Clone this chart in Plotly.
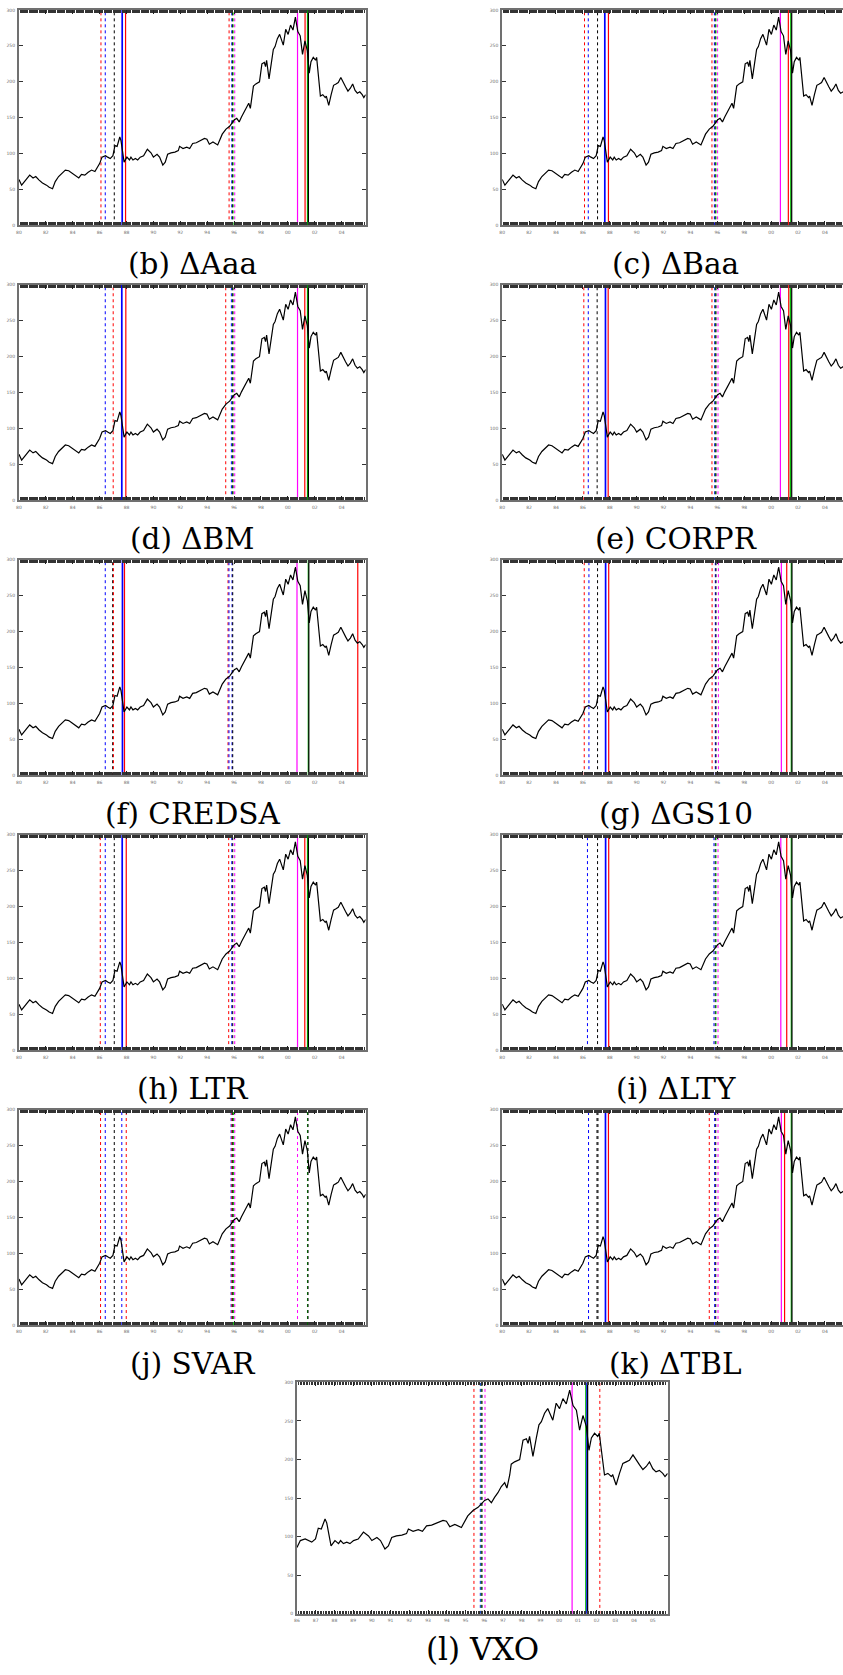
import plotly.graph_objects as go

# ---- index level (decimal year, level) ----
YEARS = [
    1980.00, 1980.20, 1980.50, 1980.80, 1981.05, 1981.25, 1981.50, 1981.75, 1982.05, 1982.25,
    1982.50, 1982.70, 1982.95, 1983.20, 1983.45, 1983.70, 1983.95, 1984.20, 1984.45, 1984.65,
    1984.90, 1985.15, 1985.40, 1985.65, 1985.90, 1986.00, 1986.18, 1986.44, 1986.60, 1986.79,
    1986.99, 1987.14, 1987.30, 1987.50, 1987.59, 1987.82, 1988.03, 1988.22, 1988.33, 1988.48,
    1988.66, 1988.83, 1989.02, 1989.27, 1989.55, 1989.82, 1990.00, 1990.27, 1990.46, 1990.70,
    1990.88, 1991.06, 1991.31, 1991.60, 1991.85, 1991.95, 1992.20, 1992.48, 1992.70, 1992.92,
    1993.19, 1993.54, 1993.80, 1993.98, 1994.16, 1994.43, 1994.58, 1994.78, 1995.12, 1995.40,
    1995.67, 1995.85, 1996.02, 1996.20, 1996.38, 1996.55, 1996.73, 1996.91, 1997.09, 1997.21,
    1997.36, 1997.44, 1997.62, 1997.89, 1998.07, 1998.25, 1998.34, 1998.42, 1998.60, 1998.78,
    1998.92, 1999.05, 1999.22, 1999.39, 1999.66, 1999.84, 2000.02, 2000.20, 2000.38, 2000.56,
    2000.74, 2000.92, 2001.09, 2001.27, 2001.45, 2001.59, 2001.72, 2001.89, 2002.06, 2002.14,
    2002.33, 2002.42, 2002.60, 2002.78, 2002.86, 2003.04, 2003.22, 2003.40, 2003.58, 2003.75,
    2003.94, 2004.11, 2004.29, 2004.47, 2004.65, 2004.82, 2005.00, 2005.17, 2005.35, 2005.53,
    2005.65, 2005.79,
]
LEVEL = [
    64, 56, 63, 70, 66, 68, 63, 59, 56, 53,
    51, 61, 68, 72, 77, 76, 73, 70, 66, 71,
    70, 74, 77, 75, 82, 86, 95, 97, 95, 93,
    97, 111, 110, 123, 118, 88, 95, 91, 95, 91,
    93, 91, 95, 97, 106, 101, 95, 99, 95, 84,
    88, 99, 101, 102, 104, 110, 107, 109, 107, 114,
    115, 118, 121, 120, 113, 116, 114, 112, 127, 134,
    138, 142, 147, 149, 144, 151, 157, 165, 170, 163,
    180, 194, 197, 200, 225, 227, 221, 230, 204, 228,
    245, 249, 260, 266, 251, 273, 266, 279, 272, 290,
    270, 264, 238, 257, 243, 212, 228, 234, 230, 234,
    197, 180, 182, 178, 180, 167, 182, 195, 197, 199,
    206, 199, 193, 187, 191, 197, 188, 184, 186, 182,
    178, 182,
]

# ---- break dates: (test, kind, date); kind "est" = point estimate, "ci" = interval bound ----
BREAKS_AAA = [
    ("t1", "ci", 1986.10), ("t2", "ci", 1986.42), ("t3", "ci", 1987.09), ("t2", "est", 1987.68), ("t1", "est", 1987.93),
    ("t1", "ci", 1995.63), ("t2", "ci", 1995.83), ("t3", "ci", 1995.88), ("t4", "ci", 1995.93), ("t5", "ci", 1996.05),
    ("t5", "est", 2000.72), ("t1", "est", 2001.28), ("t4", "est", 2001.46), ("t3", "est", 2001.53),
]
BREAKS_BAA = [
    ("t1", "ci", 1986.12), ("t2", "ci", 1986.40), ("t3", "ci", 1987.09), ("t2", "est", 1987.63), ("t1", "est", 1987.90),
    ("t1", "ci", 1995.60), ("t2", "ci", 1995.78), ("t3", "ci", 1995.85), ("t4", "ci", 1995.90), ("t5", "ci", 1996.02),
    ("t5", "est", 2000.69), ("t1", "est", 2001.28), ("t4", "est", 2001.46), ("t3", "est", 2001.53),
]
BREAKS_BM = [
    ("t2", "ci", 1986.42), ("t1", "ci", 1987.01), ("t2", "est", 1987.65), ("t1", "est", 1987.95),
    ("t1", "ci", 1995.38), ("t2", "ci", 1995.80), ("t4", "ci", 1995.88), ("t3", "ci", 1995.92), ("t5", "ci", 1996.05),
    ("t5", "est", 2000.72), ("t1", "est", 2001.26), ("t4", "est", 2001.46), ("t3", "est", 2001.53),
]
BREAKS_CORPR = [
    ("t1", "ci", 1986.07), ("t2", "ci", 1986.40), ("t3", "ci", 1987.06), ("t2", "est", 1987.68), ("t1", "est", 1987.88),
    ("t1", "ci", 1995.60), ("t2", "ci", 1995.80), ("t4", "ci", 1995.85), ("t3", "ci", 1995.90), ("t5", "ci", 1996.05),
    ("t5", "est", 2000.69), ("t1", "est", 2001.31), ("t4", "est", 2001.43), ("t3", "est", 2001.53),
]
BREAKS_CREDSA = [
    ("t2", "ci", 1986.42), ("t3", "ci", 1986.97), ("t1", "ci", 1987.03), ("t2", "est", 1987.70), ("t1", "est", 1987.85),
    ("t1", "ci", 1995.55), ("t2", "ci", 1995.62), ("t2", "ci", 1995.85), ("t3", "ci", 1995.90),
    ("t5", "est", 2000.68), ("t4", "est", 2001.52), ("t3", "est", 2001.56), ("t1", "est", 2005.20),
]
BREAKS_GS10 = [
    ("t1", "ci", 1986.10), ("t2", "ci", 1986.45), ("t3", "ci", 1987.09), ("t2", "est", 1987.69), ("t1", "est", 1987.92),
    ("t1", "ci", 1995.61), ("t2", "ci", 1995.85), ("t3", "ci", 1995.90), ("t5", "ci", 1996.08),
    ("t5", "est", 2000.76), ("t1", "est", 2001.16), ("t4", "est", 2001.50), ("t3", "est", 2001.55),
]
BREAKS_LTR = [
    ("t1", "ci", 1986.05), ("t2", "ci", 1986.42), ("t3", "ci", 1987.09), ("t2", "est", 1987.68), ("t1", "est", 1987.98),
    ("t1", "ci", 1995.60), ("t2", "ci", 1995.83), ("t3", "ci", 1995.90), ("t5", "ci", 1996.05),
    ("t5", "est", 2000.72), ("t1", "est", 2001.26), ("t4", "est", 2001.46), ("t3", "est", 2001.53),
]
BREAKS_LTY = [
    ("t2", "ci", 1986.34), ("t3", "ci", 1987.09), ("t2", "est", 1987.69), ("t1", "est", 1987.92),
    ("t2", "ci", 1995.75), ("t3", "ci", 1995.85), ("t4", "ci", 1995.90), ("t5", "ci", 1996.05),
    ("t5", "est", 2000.72), ("t1", "est", 2001.16), ("t4", "est", 2001.50), ("t3", "est", 2001.55),
]
BREAKS_SVAR = [
    ("t1", "ci", 1986.07), ("t2", "ci", 1986.42), ("t3", "ci", 1987.09), ("t2", "ci", 1987.65), ("t1", "ci", 1987.98),
    ("t2", "ci", 1995.78), ("t1", "ci", 1995.84), ("t3", "ci", 1995.90), ("t4", "ci", 1995.95), ("t5", "ci", 1996.05),
    ("t5", "ci", 2000.72), ("t4", "ci", 2001.46), ("t3", "ci", 2001.50),
]
BREAKS_TBL = [
    ("t2", "ci", 1986.42), ("t3", "ci", 1987.05), ("t3", "ci", 1987.12), ("t2", "est", 1987.68), ("t1", "est", 1987.90),
    ("t1", "ci", 1995.40), ("t2", "ci", 1995.80), ("t3", "ci", 1995.88), ("t5", "ci", 1996.05),
    ("t5", "est", 2000.76), ("t1", "est", 2001.00), ("t4", "est", 2001.50), ("t3", "est", 2001.55),
]
BREAKS_VXO = [
    ("t1", "ci", 1995.45), ("t2", "ci", 1995.79), ("t4", "ci", 1995.84), ("t3", "ci", 1995.88), ("t5", "ci", 1996.04),
    ("t5", "est", 2000.69), ("t4", "est", 2001.42), ("t2", "est", 2001.49), ("t3", "est", 2001.52), ("t1", "ci", 2002.17),
]

PANEL_TITLES = ["(b) ΔAaa", "(c) ΔBaa", "(d) ΔBM", "(e) CORPR", "(f) CREDSA", "(g) ΔGS10",
                "(h) LTR", "(i) ΔLTY", "(j) SVAR", "(k) ΔTBL", "(l) VXO"]
PANEL_BREAKS = [BREAKS_AAA, BREAKS_BAA, BREAKS_BM, BREAKS_CORPR, BREAKS_CREDSA, BREAKS_GS10,
                BREAKS_LTR, BREAKS_LTY, BREAKS_SVAR, BREAKS_TBL, BREAKS_VXO]
PANEL_START = [1980] * 10 + [1986]

Y_TICKS = [0, 50, 100, 150, 200, 250, 300]
X_TICKS_LONG = list(range(1980, 2006, 2))
X_TICKS_SHORT = list(range(1986, 2006))

# ---- drawing ----
W, H = 843, 1675
END = YEARS[-1]
TEST_COLOR = {"t1": "#ff0000", "t2": "#0000ff", "t3": "#000000", "t4": "#00b400", "t5": "#ff00ff"}
TICK_FONT = dict(family="DejaVu Sans", size=4.5, color="#6e6e6e")
FRAME = "#707070"

fig = go.Figure()


def px_x(v):
    return v / W


def px_y(v):
    return 1 - v / H


# pixel geometry of each panel: left, right, top, bottom
boxes = []
for k in range(5):
    top = 8 + k * 275.75
    bot = top + 216
    boxes.append((16, 364, top, bot))
    boxes.append((501, 849, top, bot))
boxes.append((295, 667, 1384.5, 1616.7))

for i, (title, brks, start) in enumerate(zip(PANEL_TITLES, PANEL_BREAKS, PANEL_START)):
    n = i + 1
    xa, ya = f"x{n}", f"y{n}"
    left, right, top, bot = boxes[i]
    span = END - start
    per_px = span / (right - left)
    clip_right = min(right, W)
    x_hi = start + (clip_right - left) * per_px

    # break lines: interval bounds dotted, estimates solid
    for kind in ("ci", "est"):
        for test, k_, date in brks:
            if k_ != kind:
                continue
            col = TEST_COLOR[test]
            if kind == "est":
                width = 1.7 if test == "t2" else 1.2
            else:
                width = 1.0
            fig.add_trace(go.Scatter(
                x=[date, date], y=[0, 300], mode="lines", xaxis=xa, yaxis=ya,
                line=dict(color=col, width=width, dash="solid" if kind == "est" else "dot"),
                hoverinfo="skip"))

    xs = [x for x in YEARS if x >= start]
    ys = [y for x, y in zip(YEARS, LEVEL) if x >= start]
    fig.add_trace(go.Scatter(x=xs, y=ys, mode="lines", xaxis=xa, yaxis=ya,
                             line=dict(color="black", width=1.2), hoverinfo="skip"))

    ticks = X_TICKS_LONG if start == 1980 else X_TICKS_SHORT
    fig.layout[f"xaxis{n}" if n > 1 else "xaxis"] = dict(
        domain=[px_x(left), px_x(clip_right)], range=[start, x_hi], anchor=ya,
        tickmode="array", tickvals=ticks, ticktext=[f"{t % 100:02d}" for t in ticks],
        ticks="inside", ticklen=4, tickwidth=1, tickcolor="#222",
        minor=dict(tickmode="linear", tick0=start, dtick=1 / 12, ticks="inside",
                   ticklen=3, tickwidth=0.9, tickcolor="#333", showgrid=False),
        showline=True, linecolor=FRAME, linewidth=2, mirror="ticks",
        showgrid=False, zeroline=False, tickfont=TICK_FONT, ticklabelstandoff=1,
    )
    fig.layout[f"yaxis{n}" if n > 1 else "yaxis"] = dict(
        domain=[px_y(bot), px_y(top)], range=[0, 300], anchor=xa,
        tickmode="array", tickvals=Y_TICKS, ticks="inside", ticklen=4, tickwidth=1, tickcolor="#333",
        showline=True, linecolor=FRAME, linewidth=2, mirror="ticks" if right <= W else False,
        showgrid=False, zeroline=False, tickfont=TICK_FONT, ticklabelstandoff=1,
    )

    cap_y = bot + (35.5 if i == 10 else 39)
    fig.add_annotation(text=title, x=px_x((left + right) / 2), y=px_y(cap_y), xref="paper", yref="paper",
                       xanchor="center", yanchor="middle", showarrow=False,
                       font=dict(family="DejaVu Serif", size=31 if i == 10 else 29.5, color="black"))

fig.update_layout(width=W, height=H, margin=dict(l=0, r=0, t=0, b=0),
                  paper_bgcolor="white", plot_bgcolor="white", showlegend=False)

fig.write_html("out.html")
